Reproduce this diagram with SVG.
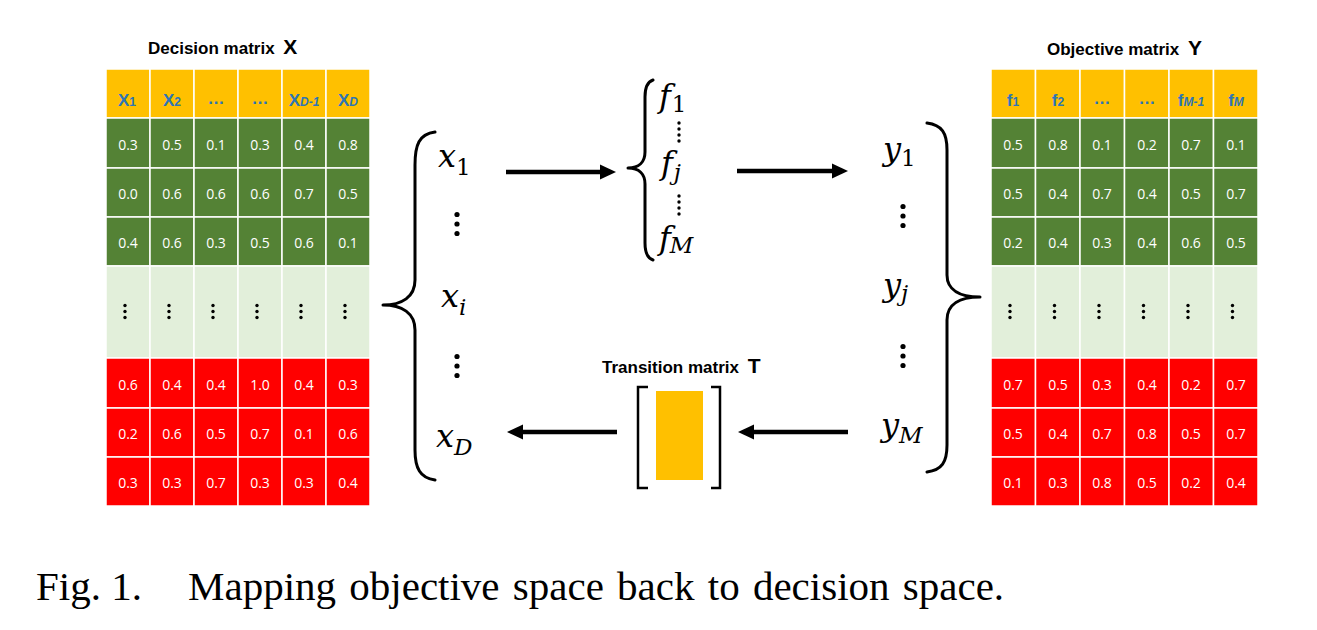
<svg xmlns="http://www.w3.org/2000/svg" width="1317" height="630" viewBox="0 0 1317 630">
<style>
.hd{fill:#FFC000;stroke:#fff;stroke-width:1.5}
.g{fill:#548235;stroke:#fff;stroke-width:1.5}
.lg{fill:#E2EFDA;stroke:#fff;stroke-width:1.5}
.r{fill:#FF0000;stroke:#fff;stroke-width:1.5}
.v{font-family:"Open Sans","Liberation Sans",sans-serif;font-size:14px;fill:#fff;text-anchor:middle}
.h{font-family:"Liberation Sans",Arial,sans-serif;font-size:17px;font-weight:bold;fill:#2E75B6;text-anchor:middle}
.hs{font-size:12px}
.t{font-family:"Liberation Sans",Arial,sans-serif;font-size:17px;font-weight:bold;fill:#000}
.tb{font-size:21px}
.m{font-family:"DejaVu Serif","Liberation Serif",serif;font-style:italic;font-size:32px;fill:#000}
.s{font-size:23px}
.up{font-style:normal}
.br{fill:none;stroke:#000;stroke-width:3;stroke-linecap:round;stroke-linejoin:round}
.bk{fill:none;stroke:#000;stroke-width:2.5}
.ar{stroke:#000;stroke-width:4.5}
.cap{font-family:"Liberation Serif","Times New Roman",serif;font-size:41px;fill:#000}
</style>
<defs>
<g id="vd"><circle cx="0" cy="-6" r="1.7"/><circle cx="0" cy="0" r="1.7"/><circle cx="0" cy="6" r="1.7"/></g>
<g id="bd"><circle cx="0" cy="-9.5" r="2.6"/><circle cx="0" cy="0" r="2.6"/><circle cx="0" cy="9.5" r="2.6"/></g>
</defs>

<g id="decision-matrix">
<text class="t" x="148" y="54">Decision matrix <tspan class="tb" dx="4">X</tspan></text>
<g>
<rect class="hd" x="106" y="69" width="44" height="49"/><rect class="hd" x="150" y="69" width="44" height="49"/><rect class="hd" x="194" y="69" width="44" height="49"/><rect class="hd" x="238" y="69" width="44" height="49"/><rect class="hd" x="282" y="69" width="44" height="49"/><rect class="hd" x="326" y="69" width="44" height="49"/>
<text class="h" x="127" y="106">X<tspan class="hs">1</tspan></text>
<text class="h" x="172" y="106">X<tspan class="hs">2</tspan></text>
<text class="h" x="216" y="104">…</text>
<text class="h" x="260" y="104">…</text>
<text class="h" x="304" y="106">X<tspan class="hs" font-style="italic">D-1</tspan></text>
<text class="h" x="348" y="106">X<tspan class="hs" font-style="italic">D</tspan></text>
</g>
<g>
<rect class="g" x="106" y="118" width="44" height="50"/><rect class="g" x="150" y="118" width="44" height="50"/><rect class="g" x="194" y="118" width="44" height="50"/><rect class="g" x="238" y="118" width="44" height="50"/><rect class="g" x="282" y="118" width="44" height="50"/><rect class="g" x="326" y="118" width="44" height="50"/>
<rect class="g" x="106" y="168" width="44" height="49"/><rect class="g" x="150" y="168" width="44" height="49"/><rect class="g" x="194" y="168" width="44" height="49"/><rect class="g" x="238" y="168" width="44" height="49"/><rect class="g" x="282" y="168" width="44" height="49"/><rect class="g" x="326" y="168" width="44" height="49"/>
<rect class="g" x="106" y="217" width="44" height="49"/><rect class="g" x="150" y="217" width="44" height="49"/><rect class="g" x="194" y="217" width="44" height="49"/><rect class="g" x="238" y="217" width="44" height="49"/><rect class="g" x="282" y="217" width="44" height="49"/><rect class="g" x="326" y="217" width="44" height="49"/>
<rect class="lg" x="106" y="266" width="44" height="92"/><rect class="lg" x="150" y="266" width="44" height="92"/><rect class="lg" x="194" y="266" width="44" height="92"/><rect class="lg" x="238" y="266" width="44" height="92"/><rect class="lg" x="282" y="266" width="44" height="92"/><rect class="lg" x="326" y="266" width="44" height="92"/>
<rect class="r" x="106" y="358" width="44" height="50"/><rect class="r" x="150" y="358" width="44" height="50"/><rect class="r" x="194" y="358" width="44" height="50"/><rect class="r" x="238" y="358" width="44" height="50"/><rect class="r" x="282" y="358" width="44" height="50"/><rect class="r" x="326" y="358" width="44" height="50"/>
<rect class="r" x="106" y="408" width="44" height="49"/><rect class="r" x="150" y="408" width="44" height="49"/><rect class="r" x="194" y="408" width="44" height="49"/><rect class="r" x="238" y="408" width="44" height="49"/><rect class="r" x="282" y="408" width="44" height="49"/><rect class="r" x="326" y="408" width="44" height="49"/>
<rect class="r" x="106" y="457" width="44" height="49"/><rect class="r" x="150" y="457" width="44" height="49"/><rect class="r" x="194" y="457" width="44" height="49"/><rect class="r" x="238" y="457" width="44" height="49"/><rect class="r" x="282" y="457" width="44" height="49"/><rect class="r" x="326" y="457" width="44" height="49"/>
</g>
<g>
<text class="v" x="128" y="150">0.3</text><text class="v" x="172" y="150">0.5</text><text class="v" x="216" y="150">0.1</text><text class="v" x="260" y="150">0.3</text><text class="v" x="304" y="150">0.4</text><text class="v" x="348" y="150">0.8</text>
<text class="v" x="128" y="199">0.0</text><text class="v" x="172" y="199">0.6</text><text class="v" x="216" y="199">0.6</text><text class="v" x="260" y="199">0.6</text><text class="v" x="304" y="199">0.7</text><text class="v" x="348" y="199">0.5</text>
<text class="v" x="128" y="248">0.4</text><text class="v" x="172" y="248">0.6</text><text class="v" x="216" y="248">0.3</text><text class="v" x="260" y="248">0.5</text><text class="v" x="304" y="248">0.6</text><text class="v" x="348" y="248">0.1</text>
<text class="v" x="128" y="390">0.6</text><text class="v" x="172" y="390">0.4</text><text class="v" x="216" y="390">0.4</text><text class="v" x="260" y="390">1.0</text><text class="v" x="304" y="390">0.4</text><text class="v" x="348" y="390">0.3</text>
<text class="v" x="128" y="439">0.2</text><text class="v" x="172" y="439">0.6</text><text class="v" x="216" y="439">0.5</text><text class="v" x="260" y="439">0.7</text><text class="v" x="304" y="439">0.1</text><text class="v" x="348" y="439">0.6</text>
<text class="v" x="128" y="488">0.3</text><text class="v" x="172" y="488">0.3</text><text class="v" x="216" y="488">0.7</text><text class="v" x="260" y="488">0.3</text><text class="v" x="304" y="488">0.3</text><text class="v" x="348" y="488">0.4</text>
</g>
<g fill="#000">
<use href="#vd" x="125" y="311.5"/><use href="#vd" x="169" y="311.5"/><use href="#vd" x="213" y="311.5"/><use href="#vd" x="257" y="311.5"/><use href="#vd" x="301" y="311.5"/><use href="#vd" x="345" y="311.5"/>
</g>
</g>

<g id="objective-matrix">
<text class="t" x="1047" y="55">Objective matrix <tspan class="tb" dx="4">Y</tspan></text>
<g>
<rect class="hd" x="991" y="69" width="44.5" height="49"/><rect class="hd" x="1035.5" y="69" width="44.5" height="49"/><rect class="hd" x="1080" y="69" width="44.5" height="49"/><rect class="hd" x="1124.5" y="69" width="44.5" height="49"/><rect class="hd" x="1169" y="69" width="44.5" height="49"/><rect class="hd" x="1213.5" y="69" width="44.5" height="49"/>
<text class="h" x="1013" y="106">f<tspan class="hs">1</tspan></text>
<text class="h" x="1058" y="106">f<tspan class="hs">2</tspan></text>
<text class="h" x="1102" y="104">…</text>
<text class="h" x="1147" y="104">…</text>
<text class="h" x="1191" y="106">f<tspan class="hs" font-style="italic">M-1</tspan></text>
<text class="h" x="1236" y="106">f<tspan class="hs" font-style="italic">M</tspan></text>
</g>
<g>
<rect class="g" x="991" y="118" width="44.5" height="50"/><rect class="g" x="1035.5" y="118" width="44.5" height="50"/><rect class="g" x="1080" y="118" width="44.5" height="50"/><rect class="g" x="1124.5" y="118" width="44.5" height="50"/><rect class="g" x="1169" y="118" width="44.5" height="50"/><rect class="g" x="1213.5" y="118" width="44.5" height="50"/>
<rect class="g" x="991" y="168" width="44.5" height="49"/><rect class="g" x="1035.5" y="168" width="44.5" height="49"/><rect class="g" x="1080" y="168" width="44.5" height="49"/><rect class="g" x="1124.5" y="168" width="44.5" height="49"/><rect class="g" x="1169" y="168" width="44.5" height="49"/><rect class="g" x="1213.5" y="168" width="44.5" height="49"/>
<rect class="g" x="991" y="217" width="44.5" height="49"/><rect class="g" x="1035.5" y="217" width="44.5" height="49"/><rect class="g" x="1080" y="217" width="44.5" height="49"/><rect class="g" x="1124.5" y="217" width="44.5" height="49"/><rect class="g" x="1169" y="217" width="44.5" height="49"/><rect class="g" x="1213.5" y="217" width="44.5" height="49"/>
<rect class="lg" x="991" y="266" width="44.5" height="92"/><rect class="lg" x="1035.5" y="266" width="44.5" height="92"/><rect class="lg" x="1080" y="266" width="44.5" height="92"/><rect class="lg" x="1124.5" y="266" width="44.5" height="92"/><rect class="lg" x="1169" y="266" width="44.5" height="92"/><rect class="lg" x="1213.5" y="266" width="44.5" height="92"/>
<rect class="r" x="991" y="358" width="44.5" height="50"/><rect class="r" x="1035.5" y="358" width="44.5" height="50"/><rect class="r" x="1080" y="358" width="44.5" height="50"/><rect class="r" x="1124.5" y="358" width="44.5" height="50"/><rect class="r" x="1169" y="358" width="44.5" height="50"/><rect class="r" x="1213.5" y="358" width="44.5" height="50"/>
<rect class="r" x="991" y="408" width="44.5" height="49"/><rect class="r" x="1035.5" y="408" width="44.5" height="49"/><rect class="r" x="1080" y="408" width="44.5" height="49"/><rect class="r" x="1124.5" y="408" width="44.5" height="49"/><rect class="r" x="1169" y="408" width="44.5" height="49"/><rect class="r" x="1213.5" y="408" width="44.5" height="49"/>
<rect class="r" x="991" y="457" width="44.5" height="49"/><rect class="r" x="1035.5" y="457" width="44.5" height="49"/><rect class="r" x="1080" y="457" width="44.5" height="49"/><rect class="r" x="1124.5" y="457" width="44.5" height="49"/><rect class="r" x="1169" y="457" width="44.5" height="49"/><rect class="r" x="1213.5" y="457" width="44.5" height="49"/>
</g>
<g>
<text class="v" x="1013" y="150">0.5</text><text class="v" x="1058" y="150">0.8</text><text class="v" x="1102" y="150">0.1</text><text class="v" x="1147" y="150">0.2</text><text class="v" x="1191" y="150">0.7</text><text class="v" x="1236" y="150">0.1</text>
<text class="v" x="1013" y="199">0.5</text><text class="v" x="1058" y="199">0.4</text><text class="v" x="1102" y="199">0.7</text><text class="v" x="1147" y="199">0.4</text><text class="v" x="1191" y="199">0.5</text><text class="v" x="1236" y="199">0.7</text>
<text class="v" x="1013" y="248">0.2</text><text class="v" x="1058" y="248">0.4</text><text class="v" x="1102" y="248">0.3</text><text class="v" x="1147" y="248">0.4</text><text class="v" x="1191" y="248">0.6</text><text class="v" x="1236" y="248">0.5</text>
<text class="v" x="1013" y="390">0.7</text><text class="v" x="1058" y="390">0.5</text><text class="v" x="1102" y="390">0.3</text><text class="v" x="1147" y="390">0.4</text><text class="v" x="1191" y="390">0.2</text><text class="v" x="1236" y="390">0.7</text>
<text class="v" x="1013" y="439">0.5</text><text class="v" x="1058" y="439">0.4</text><text class="v" x="1102" y="439">0.7</text><text class="v" x="1147" y="439">0.8</text><text class="v" x="1191" y="439">0.5</text><text class="v" x="1236" y="439">0.7</text>
<text class="v" x="1013" y="488">0.1</text><text class="v" x="1058" y="488">0.3</text><text class="v" x="1102" y="488">0.8</text><text class="v" x="1147" y="488">0.5</text><text class="v" x="1191" y="488">0.2</text><text class="v" x="1236" y="488">0.4</text>
</g>
<g fill="#000">
<use href="#vd" x="1010" y="311.5"/><use href="#vd" x="1054.5" y="311.5"/><use href="#vd" x="1099" y="311.5"/><use href="#vd" x="1143.5" y="311.5"/><use href="#vd" x="1188" y="311.5"/><use href="#vd" x="1232.5" y="311.5"/>
</g>
</g>

<g id="x-vector">
<path class="br" d="M435,132 C419,134 415,145 415,165 L415,280 C415,297 402,305 383,305 C402,305 415,313 415,330 L415,450 C415,468 420,478 435,480"/>
<text class="m" x="438" y="167">x<tspan class="s up" dy="8">1</tspan></text>
<use href="#bd" x="457" y="224" fill="#000"/>
<text class="m" x="441" y="307">x<tspan class="s" dy="8">i</tspan></text>
<use href="#bd" x="457" y="366" fill="#000"/>
<text class="m" x="436" y="447">x<tspan class="s" dy="8">D</tspan></text>
</g>

<g id="f-functions">
<path class="br" d="M653,80 C647,82 645,88 645,97 L645,152 C645,162 639,168 628,168 C639,168 645,174 645,184 L645,243 C645,252 647,258 653,260"/>
<text class="m" x="659" y="107">f<tspan class="s up" dx="1" dy="5">1</tspan></text>
<g fill="#000"><circle cx="679" cy="123" r="1.7"/><circle cx="679" cy="129" r="1.7"/><circle cx="679" cy="135" r="1.7"/><circle cx="679" cy="141" r="1.7"/></g>
<text class="m" x="661" y="174">f<tspan class="s" dx="1" dy="6">j</tspan></text>
<g fill="#000"><circle cx="679" cy="196" r="1.7"/><circle cx="679" cy="202" r="1.7"/><circle cx="679" cy="208" r="1.7"/><circle cx="679" cy="214" r="1.7"/></g>
<text class="m" x="659" y="249">f<tspan class="s" dx="-1" dy="4">M</tspan></text>
</g>

<g id="y-vector">
<path class="br" d="M927,123 C942,125 947,133 947,150 L947,275 C947,290 960,297 980,297 C960,297 947,304 947,320 L947,445 C947,462 942,470 927,472"/>
<text class="m" x="883" y="160">y<tspan class="s up" dy="6">1</tspan></text>
<use href="#bd" x="903" y="216" fill="#000"/>
<text class="m" x="883" y="296">y<tspan class="s" dy="5">j</tspan></text>
<use href="#bd" x="903" y="356" fill="#000"/>
<text class="m" x="881" y="436">y<tspan class="s" dy="7">M</tspan></text>
</g>

<g id="transition-matrix">
<text class="t" x="602" y="373">Transition matrix <tspan class="tb" dx="4">T</tspan></text>
<path class="bk" d="M648,387 L638,387 L638,488 L648,488"/>
<path class="bk" d="M711,387 L720,387 L720,488 L711,488"/>
<rect x="656" y="391" width="47" height="89" fill="#FFC000"/>
</g>

<g id="connectors">
<line class="ar" x1="506" y1="172" x2="602" y2="172"/><polygon points="616,172 600,164.5 600,179.5"/>
<line class="ar" x1="737" y1="171" x2="834" y2="171"/><polygon points="848,171 832,163.5 832,178.5"/>
<line class="ar" x1="617" y1="432" x2="520" y2="432"/><polygon points="507,432 523,424.5 523,439.5"/>
<line class="ar" x1="848" y1="432" x2="751" y2="432"/><polygon points="738,432 754,424.5 754,439.5"/>
</g>

<g id="caption">
<text class="cap" x="36" y="600">Fig. 1.</text>
<text class="cap" x="188" y="600" word-spacing="3">Mapping objective space back to decision space.</text>
</g>
</svg>
